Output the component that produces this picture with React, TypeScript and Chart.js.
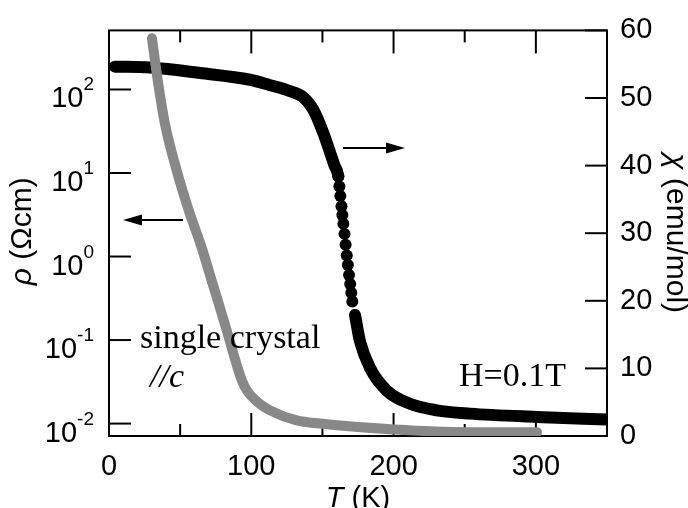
import React, { useEffect, useRef } from 'react';
import { Chart, registerables } from 'chart.js';

Chart.register(...registerables);

// ---- data ----
const rhoTemps = [30.2, 34.4, 39.4, 47.8, 56.2, 64.7, 73.1, 81.5, 90.0, 93.5, 97.0, 104.7, 113.2, 131.9, 148.3, 200.3, 251.4, 300.8];
const rhoValues = [410, 124, 38.4, 10.4, 3.51, 1.35, 0.456, 0.154, 0.049, 0.0325, 0.0248, 0.0179, 0.0144, 0.0109, 0.0100, 0.0085, 0.0079, 0.0079];

const chiTemps = [4.2, 28.8, 64.0, 99.1, 113.2, 127.2, 136.3, 143.5, 150.4, 155.3, 158.5,
  161.2, 161.9, 162.6, 163.4, 164.0, 164.7, 165.5, 166.3, 167.1, 167.9, 168.7, 169.5, 170.3, 171.0,
  172.9, 176.4, 183.4, 195.2, 211.5, 230.3, 253.7, 300.6, 349.8];
const chiValues = [54.64, 54.5, 53.7, 52.7, 51.9, 51.02, 50.15, 48.3, 44.96, 42.0, 40.0,
  38.4, 36.9, 35.5, 34.0, 32.7, 31.4, 29.9, 28.3, 26.7, 25.3, 23.8, 22.5, 21.2, 19.9,
  17.9, 14.0, 10.1, 6.72, 4.77, 3.80, 3.31, 2.82, 2.44];
const chiBeadFirst = 11;
const chiBeadLast = 24;

const xTickLabels = [0, 100, 200, 300];
const xMinorTicks = [50, 150, 250, 350];
const rhoTickExponents = [-2, -1, 0, 1, 2];
const chiTickLabels = [0, 10, 20, 30, 40, 50, 60];

const SANS = '"Liberation Sans", Arial, sans-serif';
const SERIF = '"Liberation Serif", "Times New Roman", serif';

const framePlugin = {
  id: 'frame',
  beforeDatasetsDraw(chart: any) {
    const ctx = chart.ctx;
    const { left, right, top, bottom } = chart.chartArea;
    const xs = chart.scales.x;
    const ys = chart.scales.y;
    const y2 = chart.scales.y2;
    ctx.save();
    ctx.strokeStyle = '#000';
    ctx.lineWidth = 2;
    ctx.strokeRect(left, top, right - left, bottom - top);
    const line = (a: number, b: number, c: number, d: number) => {
      ctx.beginPath();
      ctx.moveTo(a, b);
      ctx.lineTo(c, d);
      ctx.stroke();
    };
    for (const v of xTickLabels) {
      const px = xs.getPixelForValue(v);
      line(px, bottom, px, bottom - 23);
      line(px, top, px, top + 23);
    }
    for (const v of xMinorTicks) {
      const px = xs.getPixelForValue(v);
      line(px, bottom, px, bottom - 12);
      line(px, top, px, top + 12);
    }
    for (const e of rhoTickExponents) {
      const py = ys.getPixelForValue(Math.pow(10, e));
      line(left, py, left + 22, py);
    }
    for (const v of chiTickLabels) {
      const py = y2.getPixelForValue(v);
      line(right, py, right - 22, py);
    }
    ctx.restore();
  },
};

function drawArrow(ctx: CanvasRenderingContext2D, x0: number, x1: number, y: number) {
  const dir = x1 > x0 ? 1 : -1;
  const headLen = 19;
  ctx.beginPath();
  ctx.moveTo(x0, y);
  ctx.lineTo(x1 - dir * headLen, y);
  ctx.stroke();
  ctx.beginPath();
  ctx.moveTo(x1, y);
  ctx.lineTo(x1 - dir * headLen, y - 5.5);
  ctx.lineTo(x1 - dir * headLen, y + 5.5);
  ctx.closePath();
  ctx.fill();
}

function drawPieces(ctx: CanvasRenderingContext2D, pieces: [string, string][], cx: number, baseline: number) {
  let total = 0;
  for (const [font, text] of pieces) {
    ctx.font = font;
    total += ctx.measureText(text).width;
  }
  let x = cx - total / 2;
  ctx.textAlign = 'left';
  ctx.textBaseline = 'alphabetic';
  for (const [font, text] of pieces) {
    ctx.font = font;
    ctx.fillText(text, x, baseline);
    x += ctx.measureText(text).width;
  }
}

const textPlugin = {
  id: 'texts',
  afterDraw(chart: any) {
    const ctx: CanvasRenderingContext2D = chart.ctx;
    const { left, right, top, bottom } = chart.chartArea;
    const ys = chart.scales.y;
    const midY = (top + bottom) / 2;
    ctx.save();
    ctx.fillStyle = '#000';
    ctx.strokeStyle = '#000';

    // left log tick labels with superscripts
    const labelRight = left - 15;
    for (const e of rhoTickExponents) {
      const py = ys.getPixelForValue(Math.pow(10, e));
      const exp = String(e);
      ctx.textAlign = 'left';
      ctx.textBaseline = 'alphabetic';
      ctx.font = `19px ${SANS}`;
      const we = ctx.measureText(exp).width;
      ctx.font = `29px ${SANS}`;
      const wb = ctx.measureText('10').width;
      ctx.fillText('10', labelRight - we - wb, py + 18);
      ctx.font = `19px ${SANS}`;
      ctx.fillText(exp, labelRight - we, py + 1);
    }

    // left axis title
    ctx.save();
    ctx.translate(31, midY - 2);
    ctx.rotate(-Math.PI / 2);
    drawPieces(ctx, [[`italic 30px ${SANS}`, 'ρ'], [`30px ${SANS}`, ' (Ωcm)']], 0, 0);
    ctx.restore();

    // right axis title
    ctx.save();
    ctx.translate(667, midY);
    ctx.rotate(Math.PI / 2);
    drawPieces(ctx, [[`italic 30px ${SANS}`, 'χ'], [`30px ${SANS}`, ' (emu/mol)']], 0, 0);
    ctx.restore();

    // x axis title
    drawPieces(ctx, [[`italic 29px ${SANS}`, 'T'], [`29px ${SANS}`, ' (K)']], (left + right) / 2, 507);

    // annotations
    ctx.textAlign = 'left';
    ctx.textBaseline = 'alphabetic';
    ctx.font = `34px ${SERIF}`;
    ctx.fillText('single crystal', 140, 348);
    ctx.font = `italic 34px ${SERIF}`;
    ctx.fillText('//c', 150, 387);
    ctx.font = `34px ${SERIF}`;
    ctx.fillText('H=0.1T', 459, 386);

    // arrows
    ctx.lineWidth = 2;
    drawArrow(ctx, 183, 123, 220);
    drawArrow(ctx, 343, 405, 148);
    ctx.restore();
  },
};

export default function App() {
  const canvasRef = useRef<HTMLCanvasElement>(null);

  useEffect(() => {
    const canvas = canvasRef.current;
    if (!canvas) return;
    const chart = new Chart(canvas, {
      type: 'line',
      data: {
        datasets: [
          {
            label: 'rho',
            data: rhoTemps.map((t, i) => ({ x: t, y: rhoValues[i] })),
            yAxisID: 'y',
            borderColor: '#888888',
            borderWidth: 10,
            borderCapStyle: 'round',
            borderJoinStyle: 'round',
            pointRadius: 0,
            cubicInterpolationMode: 'monotone',
            fill: false,
            order: 0,
          },
          {
            label: 'chi',
            data: chiTemps.map((t, i) => ({ x: t, y: chiValues[i] })),
            yAxisID: 'y2',
            borderColor: '#000000',
            borderWidth: 12,
            borderCapStyle: 'round',
            borderJoinStyle: 'round',
            pointRadius: (c: any) => (c.dataIndex >= chiBeadFirst && c.dataIndex <= chiBeadLast ? 6 : 0),
            pointBackgroundColor: '#000000',
            pointBorderWidth: 0,
            cubicInterpolationMode: 'monotone',
            fill: false,
            order: 1,
            segment: {
              borderColor: (c: any) =>
                c.p0DataIndex >= chiBeadFirst && c.p1DataIndex <= chiBeadLast + 1 ? 'rgba(0,0,0,0)' : undefined,
            },
          },
        ] as any,
      },
      options: {
        animation: false,
        responsive: true,
        maintainAspectRatio: false,
        layout: { padding: { top: 25, left: 0, right: 0, bottom: 0 } },
        plugins: { legend: { display: false }, tooltip: { enabled: false } },
        scales: {
          x: {
            type: 'linear',
            position: 'bottom',
            min: 0,
            max: 350,
            afterBuildTicks: (s: any) => {
              s.ticks = xTickLabels.map((v) => ({ value: v }));
            },
            ticks: { font: { family: SANS, size: 29 }, color: '#000', padding: 14, maxRotation: 0, autoSkip: false },
            grid: { display: false, drawTicks: false },
            border: { display: false },
            afterFit: (s: any) => {
              s.height = 72;
            },
          },
          y: {
            type: 'logarithmic',
            position: 'left',
            min: 0.0071,
            max: 510,
            afterBuildTicks: (s: any) => {
              s.ticks = rhoTickExponents.map((e) => ({ value: Math.pow(10, e) }));
            },
            ticks: { display: false },
            grid: { display: false, drawTicks: false },
            border: { display: false },
            afterFit: (s: any) => {
              s.width = 109;
            },
          },
          y2: {
            type: 'linear',
            position: 'right',
            min: 0,
            max: 60,
            afterBuildTicks: (s: any) => {
              s.ticks = chiTickLabels.map((v) => ({ value: v }));
            },
            ticks: { font: { family: SANS, size: 29 }, color: '#000', padding: 13, autoSkip: false },
            grid: { display: false, drawTicks: false },
            border: { display: false },
            afterFit: (s: any) => {
              s.width = 81;
            },
          },
        },
      } as any,
      plugins: [framePlugin, textPlugin],
    });
    return () => chart.destroy();
  }, []);

  return (
    <div style={{ position: 'absolute', left: 0, top: 0, width: 688, height: 508, background: '#fff' }}>
      <canvas ref={canvasRef} />
    </div>
  );
}
